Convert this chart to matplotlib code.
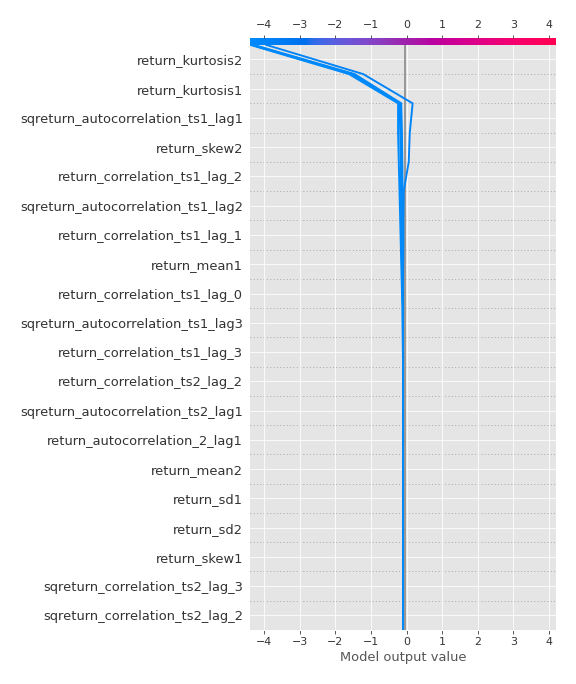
import matplotlib

matplotlib.use("Agg")
import matplotlib.pyplot as plt
import numpy as np
from matplotlib.colors import LinearSegmentedColormap, Normalize
from matplotlib.colorbar import ColorbarBase

# feature names, top row first
features = [
    "return_kurtosis2",
    "return_kurtosis1",
    "sqreturn_autocorrelation_ts1_lag1",
    "return_skew2",
    "return_correlation_ts1_lag_2",
    "sqreturn_autocorrelation_ts1_lag2",
    "return_correlation_ts1_lag_1",
    "return_mean1",
    "return_correlation_ts1_lag_0",
    "sqreturn_autocorrelation_ts1_lag3",
    "return_correlation_ts1_lag_3",
    "return_correlation_ts2_lag_2",
    "sqreturn_autocorrelation_ts2_lag1",
    "return_autocorrelation_2_lag1",
    "return_mean2",
    "return_sd1",
    "return_sd2",
    "return_skew1",
    "sqreturn_correlation_ts2_lag_3",
    "sqreturn_correlation_ts2_lag_2",
]

base_value = -0.05
x_range = (-4.40, 4.19)
x_ticks = [-4, -3, -2, -1, 0, 1, 2, 3, 4]

# cumulative model output per observation, from the bottom row (level 0) to the top (level 20)
obs_a = [-0.10, -0.10, -0.10, -0.10, -0.10, -0.10, -0.10, -0.10, -0.10, -0.10, -0.10,
         -0.10, -0.10, -0.09, -0.09, -0.08, 0.06, 0.09, 0.17, -1.22, -3.95]
obs_b = [-0.10, -0.10, -0.10, -0.10, -0.10, -0.10, -0.10, -0.10, -0.10, -0.10, -0.11,
         -0.12, -0.14, -0.16, -0.18, -0.20, -0.22, -0.24, -0.24, -1.62, -4.40]
obs_c = [-0.10, -0.10, -0.10, -0.10, -0.10, -0.10, -0.10, -0.10, -0.10, -0.10, -0.10,
         -0.10, -0.12, -0.14, -0.15, -0.16, -0.17, -0.18, -0.20, -1.55, -4.36]
obs_d = [-0.10, -0.10, -0.10, -0.10, -0.10, -0.10, -0.10, -0.10, -0.10, -0.10, -0.10,
         -0.10, -0.10, -0.10, -0.11, -0.11, -0.12, -0.13, -0.15, -1.46, -4.30]
obs_e = [-0.10, -0.10, -0.10, -0.10, -0.10, -0.10, -0.10, -0.10, -0.10, -0.10, -0.10,
         -0.10, -0.10, -0.11, -0.12, -0.13, -0.14, -0.15, -0.17, -1.51, -4.33]
observations = [obs_a, obs_b, obs_c, obs_d, obs_e]


def lch_to_rgb(l, c, h):
    """LCH (CIE Lab, D65) to clipped sRGB."""
    a, b = c * np.cos(h), c * np.sin(h)
    fy = (l + 16) / 116
    f = np.array([fy + a / 500, fy, fy - b / 200])
    t = np.where(f > 6 / 29, f ** 3, 3 * (6 / 29) ** 2 * (f - 4 / 29))
    xyz = t * np.array([0.95047, 1.0, 1.08883])
    m = np.array([[3.2406, -1.5372, -0.4986],
                  [-0.9689, 1.8758, 0.0415],
                  [0.0557, -0.2040, 1.0570]])
    rgb = m @ xyz
    rgb = np.where(rgb <= 0.0031308, 12.92 * rgb, 1.055 * np.abs(rgb) ** (1 / 2.4) - 0.055)
    return np.clip(rgb, 0, 1)


def red_blue_cmap(nsteps=100):
    # blue -> purple -> red, interpolated in LCH space
    l_vals = np.concatenate([np.linspace(54, 40, nsteps // 2), np.linspace(40, 54, nsteps // 2)])
    c_vals = np.linspace(70, 90, nsteps)
    h_vals = np.linspace(4.6588, 0.35470565 + 2 * np.pi, nsteps)
    colors = [lch_to_rgb(l, c, h) for l, c, h in zip(l_vals, c_vals, h_vals)]
    return LinearSegmentedColormap.from_list("red_blue", colors)


def main():
    plt.style.use("ggplot")
    cmap = red_blue_cmap()
    norm = Normalize(vmin=x_range[0], vmax=x_range[1])
    n = len(features)
    levels = np.arange(n + 1)
    axis_color = "#333333"

    fig = plt.figure(figsize=(8, 9.5), dpi=72)
    ax = fig.add_axes([250 / 576, 1 - 630 / 684, 305.7 / 576, 592.5 / 684])

    # dotted separators between rows
    for i in range(n):
        ax.axhline(i, color="#aaaaaa", lw=1, dashes=(1, 2.3), zorder=-1)

    ax.axvline(base_value, color="#999999", lw=2, zorder=1)

    for obs in observations:
        ax.plot(obs, levels, color=cmap(norm(obs[-1])), lw=1.9, zorder=2)

    ax.set_xlim(*x_range)
    ax.set_ylim(0, n + 0.25)
    ax.set_yticks(np.arange(n) + 0.5)
    ax.set_yticklabels(features[::-1], fontsize=13)
    ax.set_xticks(x_ticks)
    ax.tick_params(color=axis_color, labelcolor=axis_color)
    ax.tick_params(axis="x", labelsize=11)
    ax.yaxis.set_ticks_position("none")
    ax.xaxis.set_ticks_position("bottom")
    for side in ["right", "left", "top"]:
        ax.spines[side].set_visible(False)
    ax.set_xlabel("Model output value", fontsize=13, color="#555555")

    # colour bar along the top
    ax_cb = ax.inset_axes([x_range[0], n, x_range[1] - x_range[0], 0.25], transform=ax.transData)
    cb = ColorbarBase(ax_cb, cmap=cmap, norm=norm, orientation="horizontal")
    cb.set_ticks([])
    cb.outline.set_visible(False)

    # scale on the top
    ax2 = ax.twiny()
    ax2.set_xlim(*x_range)
    ax2.set_xticks(x_ticks)
    ax2.grid(False)
    ax2.tick_params(color=axis_color, labelcolor=axis_color, labelsize=11)
    for side in ["right", "left", "top", "bottom"]:
        ax2.spines[side].set_visible(False)

    plt.savefig("out.png", dpi=72)
    plt.close()


if __name__ == "__main__":
    main()
